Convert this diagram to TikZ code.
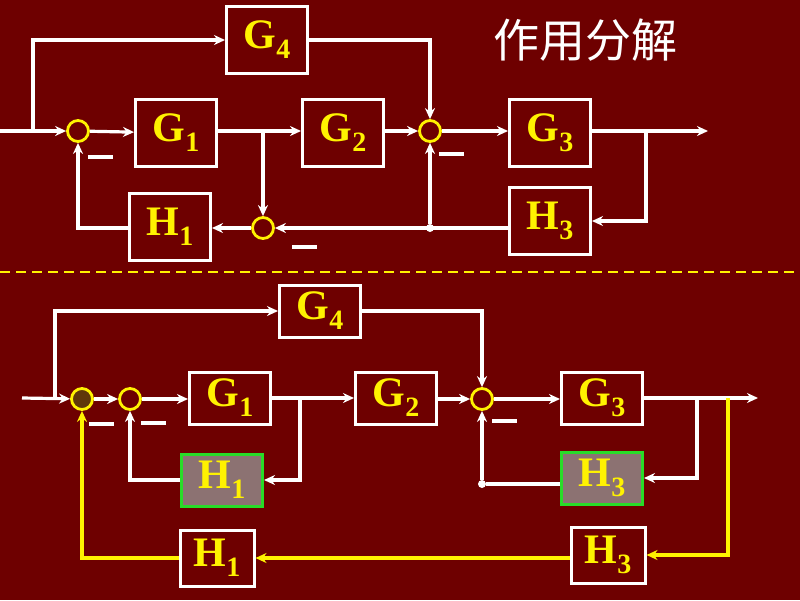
\documentclass[tikz,border=0pt]{standalone}
\usepackage{fontspec}
\setmainfont{Liberation Serif}
\newfontfamily\cjk{Noto Sans CJK SC}
\usetikzlibrary{positioning}
\usetikzlibrary{arrows.meta}

\definecolor{bgred}{RGB}{110,0,0}
\definecolor{boxgray}{RGB}{140,114,114}
\definecolor{boxgreen}{RGB}{40,220,40}
\definecolor{sumbrown}{RGB}{95,55,10}
\newcommand{\blk}[2]{#1\raisebox{-0.24em}{\fontsize{28}{28}\selectfont #2}}

\begin{document}
\begin{tikzpicture}[x=1pt,y=-1pt,
  blk/.style={draw=white,line width=3pt,minimum width=81pt,minimum height=67pt,
    inner sep=0pt,text=yellow,font=\fontsize{42}{42}\selectfont\bfseries},
  sblk/.style={blk,minimum height=52pt},
  fblk/.style={sblk,fill=boxgray,draw=boxgreen},
  yblk/.style={blk,minimum width=74pt,minimum height=56pt},
  sum/.style={circle,draw=yellow,line width=2.8pt,minimum size=21pt,inner sep=0pt},
  arr/.style={white,line width=3.2pt,-{Stealth[length=11pt,width=10pt]}},
  wire/.style={white,line width=3.2pt},
  yarr/.style={yellow,line width=3.2pt,-{Stealth[length=11pt,width=10pt]}},
  dot/.style={circle,fill=white,minimum size=8pt,inner sep=0pt},
  minus/.style={fill=white,minimum width=25pt,minimum height=3.5pt,inner sep=0pt}]
\fill[bgred] (0,0) rectangle (800,600);
\useasboundingbox (0,0) rectangle (800,600);

% upper diagram
\node[text=white,font=\cjk\fontsize{46}{46}\selectfont] (title) at (585,40) {作用分解};
\coordinate (in) at (0,131);
\coordinate (b1) at (33,131);
\node[sum] (s1) at (78,131) {};
\node[blk] (G4) at (267,40) {\blk{G}{4}};
\node[blk] (G1) at (176,133) {\blk{G}{1}};
\node[blk] (G2) at (343,133) {\blk{G}{2}};
\node[sum] (s2) at (430,131) {};
\node[blk] (G3) at (550,133) {\blk{G}{3}};
\coordinate (out) at (708,131);
\coordinate (b2) at (263,131);
\coordinate (b3) at (646,131);
\node[sum] (s3) at (263,228) {};
\node[blk] (H1) at (170,227) {\blk{H}{1}};
\node[blk] (H3) at (550,221) {\blk{H}{3}};
\node[dot] (j1) at (430,228) {};
\node[minus] (m1) at (100,157) {};
\node[minus] (m2) at (451,154) {};
\node[minus] (m3) at (304,247) {};

\path[arr] (in) edge (s1);
\draw[arr] (b1) |- (G4.west);
\path[arr] (s1) edge (G1);
\path[arr] (G1.east |- b2) edge (G2.west |- b2);
\draw[arr] (G4.east) -| (s2.north);
\path[arr] (G2.east |- s2) edge (s2);
\path[arr] (s2) edge (G3.west |- s2);
\path[arr] (G3.east |- out) edge (out);
\path[arr] (b2) edge (s3);
\path[arr] (s3) edge (H1.east |- s3);
\draw[arr] (H1.west |- s3) -| (s1.south);
\draw[arr] (b3) |- (H3.east);
\path[arr] (H3.west |- s3) edge (s3);
\path[arr] (j1) edge (s2);

% dashed separator
\draw[yellow,line width=2pt,dash pattern=on 10pt off 6pt] (0,272) -- (800,272);

% lower diagram
\coordinate (in2) at (22,398);
\coordinate (b4) at (55,398);
\node[sum,fill=sumbrown] (sA) at (82,399) {};
\node[sum] (sB) at (130,399) {};
\node[sblk] (G4b) at (320,311) {\blk{G}{4}};
\node[sblk] (G1b) at (230,398) {\blk{G}{1}};
\node[sblk] (G2b) at (396,398) {\blk{G}{2}};
\node[sum] (sC) at (482,399) {};
\node[sblk] (G3b) at (602,398) {\blk{G}{3}};
\coordinate (out2) at (758,398);
\coordinate (b5) at (300,398);
\coordinate (b6) at (697,398);
\coordinate (b7) at (728,398);
\node[fblk] (H1g) at (222,480) {\blk{H}{1}};
\node[fblk] (H3g) at (602,478) {\blk{H}{3}};
\node[yblk] (H3y) at (608,555) {\blk{H}{3}};
\node[yblk] (H1y) at (217,558) {\blk{H}{1}};
\node[dot] (j2) at (482,484) {};
\node[minus] (m4) at (101,424) {};
\node[minus] (m5) at (153,423) {};
\node[minus] (m6) at (504,421) {};

\path[arr] (in2) edge (sA);
\draw[arr] (b4) |- (G4b.west);
\path[arr] (sA) edge (sB);
\path[arr] (sB) edge (G1b.west |- sB);
\path[arr] (G1b.east |- b5) edge (G2b.west |- b5);
\draw[arr] (G4b.east) -| (sC.north);
\path[arr] (G2b.east |- sC) edge (sC);
\path[arr] (sC) edge (G3b.west |- sC);
\path[arr] (G3b.east |- out2) edge (out2);
\draw[arr] (b5) |- (H1g.east);
\draw[arr] (H1g.west) -| (sB.south);
\draw[arr] (b6) |- (H3g.east);
\draw[wire] (H3g.west |- j2) -- (j2);
\path[arr] (j2) edge (sC);
\draw[yarr] (b7) |- (H3y.east);
\path[yarr] (H3y.west |- H1y) edge (H1y.east);
\draw[yarr] (H1y.west) -| (sA.south);
\end{tikzpicture}
\end{document}
